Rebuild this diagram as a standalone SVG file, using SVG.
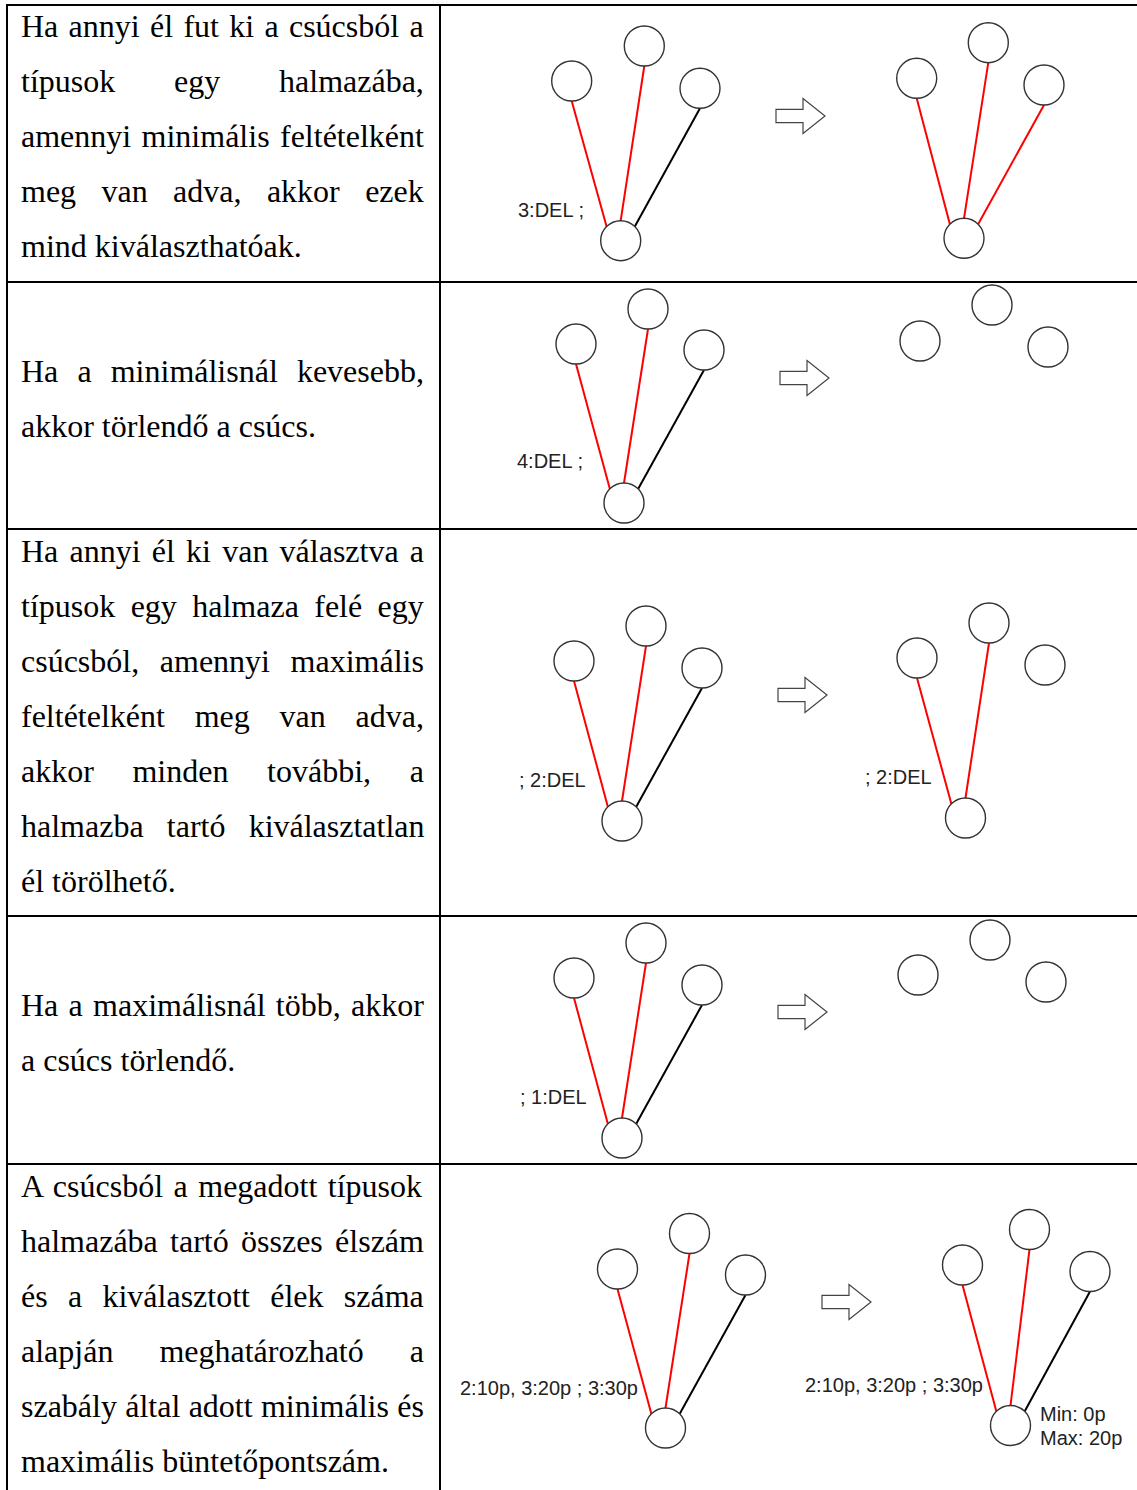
<svg xmlns="http://www.w3.org/2000/svg" width="1137" height="1490" viewBox="0 0 1137 1490">
  <style>
    .grid { stroke: #000; stroke-width: 2; fill: none; }
    .body { font-family: "Liberation Serif", "Times New Roman", serif; font-size: 32px; fill: #000; }
    .lbl { font-family: "Liberation Sans", Arial, sans-serif; font-size: 20px; fill: #222; }
    .node { fill: #fff; stroke: #333; stroke-width: 1.4; }
    .sel { stroke: #ff0000; stroke-width: 2; }
    .free { stroke: #000; stroke-width: 2; }
    .step { fill: #fff; stroke: #444; stroke-width: 1.2; stroke-linejoin: miter; }
  </style>
  <defs>
    <circle id="n" r="20" class="node"/>
    <!-- hollow block arrow, tip at (49,0) -->
    <path id="stepArrow" class="step" d="M0,-6.7 H27 V-17.5 L49,0 L27,17.5 V6.7 H0 Z"/>
  </defs>

  <rect width="1137" height="1490" fill="#fff"/>

  <!-- table grid -->
  <g id="table">
    <line class="grid" x1="6" y1="5" x2="1137" y2="5"/>
    <line class="grid" x1="6" y1="282" x2="1137" y2="282"/>
    <line class="grid" x1="6" y1="529" x2="1137" y2="529"/>
    <line class="grid" x1="6" y1="916" x2="1137" y2="916"/>
    <line class="grid" x1="6" y1="1164" x2="1137" y2="1164"/>
    <line class="grid" x1="7" y1="4" x2="7" y2="1490"/>
    <line class="grid" x1="440" y1="4" x2="440" y2="1490"/>
  </g>

  <!-- rule descriptions (justified) -->
  <g id="descriptions" class="body">
    <text x="21" y="37" word-spacing="2.3">Ha annyi él fut ki a csúcsból a</text>
    <text x="21" y="92" word-spacing="50.8">típusok egy halmazába,</text>
    <text x="21" y="147" word-spacing="2.4">amennyi minimális feltételként</text>
    <text x="21" y="202" word-spacing="17.4">meg van adva, akkor ezek</text>
    <text x="21" y="257">mind kiválaszthatóak.</text>

    <text x="21" y="382" word-spacing="11.1">Ha a minimálisnál kevesebb,</text>
    <text x="21" y="437">akkor törlendő a csúcs.</text>

    <text x="21" y="562" word-spacing="3.2">Ha annyi él ki van választva a</text>
    <text x="21" y="617" word-spacing="7.4">típusok egy halmaza felé egy</text>
    <text x="21" y="672" word-spacing="12.6">csúcsból, amennyi maximális</text>
    <text x="21" y="727" word-spacing="21.8">feltételként meg van adva,</text>
    <text x="21" y="782" word-spacing="30.6">akkor minden további, a</text>
    <text x="21" y="837" word-spacing="15.2">halmazba tartó kiválasztatlan</text>
    <text x="21" y="892">él törölhető.</text>

    <text x="21" y="1016" word-spacing="2.3">Ha a maximálisnál több, akkor</text>
    <text x="21" y="1071">a csúcs törlendő.</text>

    <text x="21" y="1197" word-spacing="2.5">A csúcsból a megadott típusok</text>
    <text x="21" y="1252" word-spacing="4.3">halmazába tartó összes élszám</text>
    <text x="21" y="1307" word-spacing="12.3">és a kiválasztott élek száma</text>
    <text x="21" y="1362" word-spacing="38">alapján meghatározható a</text>
    <text x="21" y="1417" word-spacing="0.3">szabály által adott minimális és</text>
    <text x="21" y="1472">maximális büntetőpontszám.</text>
  </g>

  <!-- edges: from the bottom of each upper node to the lower node's rim -->
  <g id="connectors">
    <!-- row 1 -->
    <line class="sel" x1="571.7" y1="101" x2="606.6" y2="226.6"/>
    <line class="sel" x1="644.3" y1="66" x2="620.7" y2="220.7"/>
    <line class="free" x1="700" y1="108.3" x2="634.8" y2="226.6"/>
    <line class="sel" x1="916.7" y1="98.3" x2="949.9" y2="224.2"/>
    <line class="sel" x1="988.3" y1="62.7" x2="964" y2="218.3"/>
    <line class="sel" x1="1044" y1="105" x2="978.1" y2="224.2"/>
    <!-- row 2 -->
    <line class="sel" x1="576" y1="364" x2="609.9" y2="488.9"/>
    <line class="sel" x1="648" y1="329" x2="624" y2="483"/>
    <line class="free" x1="704" y1="370" x2="638.1" y2="488.9"/>
    <!-- row 3 -->
    <line class="sel" x1="574" y1="681" x2="607.9" y2="806.9"/>
    <line class="sel" x1="646" y1="646" x2="622" y2="801"/>
    <line class="free" x1="702" y1="688" x2="636.1" y2="806.9"/>
    <line class="sel" x1="917" y1="678" x2="951.4" y2="803.9"/>
    <line class="sel" x1="989" y1="643" x2="965.5" y2="798"/>
    <!-- row 4 -->
    <line class="sel" x1="574" y1="998" x2="607.9" y2="1123.9"/>
    <line class="sel" x1="646" y1="963" x2="622" y2="1118"/>
    <line class="free" x1="702" y1="1005" x2="636.1" y2="1123.9"/>
    <!-- row 5 -->
    <line class="sel" x1="617.5" y1="1289" x2="651.4" y2="1413.9"/>
    <line class="sel" x1="689.5" y1="1253.5" x2="665.5" y2="1408"/>
    <line class="free" x1="745.5" y1="1295" x2="679.6" y2="1413.9"/>
    <line class="sel" x1="962.5" y1="1285" x2="996.4" y2="1411.4"/>
    <line class="sel" x1="1029.5" y1="1249.5" x2="1010.5" y2="1405.5"/>
    <line class="free" x1="1090" y1="1291.5" x2="1024.6" y2="1411.4"/>
  </g>

  <!-- row 1: minimum reached, all edges selectable -->
  <g id="r1-before">
    <use href="#n" x="571.7" y="81"/>
    <use href="#n" x="644.3" y="46"/>
    <use href="#n" x="700" y="88.3"/>
    <use href="#n" x="620.7" y="240.7"/>
    <text class="lbl" x="518" y="217">3:DEL ;</text>
  </g>
  <use id="r1-step" href="#stepArrow" x="776" y="116"/>
  <g id="r1-after">
    <use href="#n" x="916.7" y="78.3"/>
    <use href="#n" x="988.3" y="42.7"/>
    <use href="#n" x="1044" y="85"/>
    <use href="#n" x="964" y="238.3"/>
  </g>

  <!-- row 2: below minimum, node removed -->
  <g id="r2-before">
    <use href="#n" x="576" y="344"/>
    <use href="#n" x="648" y="309"/>
    <use href="#n" x="704" y="350"/>
    <use href="#n" x="624" y="503"/>
    <text class="lbl" x="517" y="468">4:DEL ;</text>
  </g>
  <use id="r2-step" href="#stepArrow" x="780" y="378"/>
  <g id="r2-after">
    <use href="#n" x="920" y="341"/>
    <use href="#n" x="992" y="305"/>
    <use href="#n" x="1048" y="347"/>
  </g>

  <!-- row 3: maximum reached, remaining edge removed -->
  <g id="r3-before">
    <use href="#n" x="574" y="661"/>
    <use href="#n" x="646" y="626"/>
    <use href="#n" x="702" y="668"/>
    <use href="#n" x="622" y="821"/>
    <text class="lbl" x="519" y="787">; 2:DEL</text>
  </g>
  <use id="r3-step" href="#stepArrow" x="778" y="695"/>
  <g id="r3-after">
    <use href="#n" x="917" y="658"/>
    <use href="#n" x="989" y="623"/>
    <use href="#n" x="1045" y="665"/>
    <use href="#n" x="965.5" y="818"/>
    <text class="lbl" x="865" y="784">; 2:DEL</text>
  </g>

  <!-- row 4: above maximum, node removed -->
  <g id="r4-before">
    <use href="#n" x="574" y="978"/>
    <use href="#n" x="646" y="943"/>
    <use href="#n" x="702" y="985"/>
    <use href="#n" x="622" y="1138"/>
    <text class="lbl" x="520" y="1104">; 1:DEL</text>
  </g>
  <use id="r4-step" href="#stepArrow" x="778" y="1012"/>
  <g id="r4-after">
    <use href="#n" x="918" y="975"/>
    <use href="#n" x="990" y="940"/>
    <use href="#n" x="1046" y="982"/>
  </g>

  <!-- row 5: penalty bounds -->
  <g id="r5-before">
    <use href="#n" x="617.5" y="1269"/>
    <use href="#n" x="689.5" y="1233.5"/>
    <use href="#n" x="745.5" y="1275"/>
    <use href="#n" x="665.5" y="1428"/>
    <text class="lbl" x="460" y="1395">2:10p, 3:20p ; 3:30p</text>
  </g>
  <use id="r5-step" href="#stepArrow" x="822" y="1302"/>
  <g id="r5-after">
    <use href="#n" x="962.5" y="1265"/>
    <use href="#n" x="1029.5" y="1229.5"/>
    <use href="#n" x="1090" y="1271.5"/>
    <use href="#n" x="1010.5" y="1425.5"/>
    <text class="lbl" x="805" y="1392">2:10p, 3:20p ; 3:30p</text>
    <text class="lbl" x="1040" y="1421">Min: 0p</text>
    <text class="lbl" x="1040" y="1445">Max: 20p</text>
  </g>
</svg>
